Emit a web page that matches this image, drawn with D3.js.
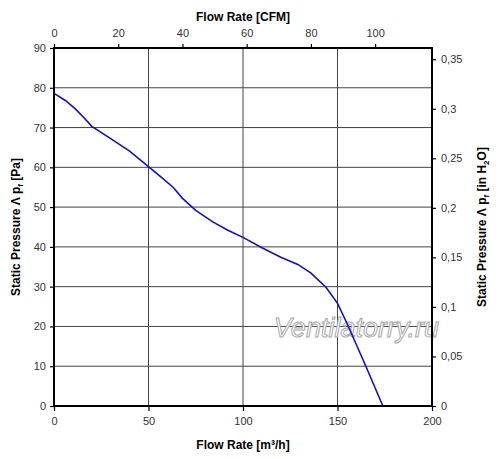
<!DOCTYPE html>
<html>
<head>
    <meta charset="UTF-8">
    <title>Fan curve</title>
    <script src="https://cdn.jsdelivr.net/npm/d3@7"></script>
    <style>
        body { margin: 0; background: #fff; }
        text { font-family: Arial, "Liberation Sans", sans-serif; }
    </style>
</head>
<body>
    <div id="chart"></div>
    <script>
        // Curve: flow in m3/h, static pressure in Pa
        const flow = [0, 6, 11, 16, 20, 30, 40, 50, 57, 63, 68, 75, 84, 92, 100, 110, 120, 129, 136, 144, 150, 155, 165, 174];
        const pressure = [78.6, 76.8, 74.8, 72.4, 70.3, 67.2, 64.1, 60.2, 57.4, 55, 52.2, 49.2, 46.3, 44.2, 42.4, 39.8, 37.4, 35.6, 33.4, 29.8, 25.8, 20.8, 10, 0];

        const flowTicks = [0, 50, 100, 150, 200];
        const cfmTicks = [0, 20, 40, 60, 80, 100];
        const paTicks = [0, 10, 20, 30, 40, 50, 60, 70, 80, 90];
        const inH2OTicks = [0, 0.05, 0.1, 0.15, 0.2, 0.25, 0.3, 0.35];

        const M3H_PER_CFM = 1.699;
        const INH2O_PER_PA = 0.0040146;

        const W = 500, H = 459;
        const margin = { top: 48, right: 68, bottom: 53, left: 54 };
        const width = W - margin.left - margin.right;
        const height = H - margin.top - margin.bottom;

        const svg = d3.select("#chart").append("svg")
            .attr("width", W)
            .attr("height", H);

        const g = svg.append("g")
            .attr("transform", `translate(${margin.left},${margin.top})`);

        const x = d3.scaleLinear().domain([0, 200]).range([0, width]);
        const xTop = d3.scaleLinear().domain([0, 200 / M3H_PER_CFM]).range([0, width]);
        const y = d3.scaleLinear().domain([0, 90]).range([height, 0]);
        const yRight = d3.scaleLinear().domain([0, 90 * INH2O_PER_PA]).range([height, 0]);

        const comma = v => String(v).replace(".", ",");

        // grid
        g.append("g").selectAll("line")
            .data(flowTicks.slice(1, -1))
            .join("line")
            .attr("x1", d => x(d)).attr("x2", d => x(d))
            .attr("y1", 0).attr("y2", height)
            .attr("stroke", "#444").attr("stroke-width", 1);

        g.append("g").selectAll("line")
            .data(paTicks.slice(1, -1))
            .join("line")
            .attr("x1", 0).attr("x2", width)
            .attr("y1", d => y(d)).attr("y2", d => y(d))
            .attr("stroke", "#444").attr("stroke-width", 1);

        // watermark
        g.append("text")
            .attr("x", x(160))
            .attr("y", y(17.3))
            .attr("text-anchor", "middle")
            .attr("font-size", "27px")
            .attr("font-style", "italic")
            .attr("fill", "#fff")
            .attr("stroke", "#a8a8a8")
            .attr("stroke-width", 1)
            .text("Ventilatorry.ru");

        // curve
        const pts = flow.map((f, i) => [f, pressure[i]]);
        g.append("path")
            .datum(pts)
            .attr("fill", "none")
            .attr("stroke", "#1010cc")
            .attr("stroke-width", 1.6)
            .attr("d", d3.line().x(d => x(d[0])).y(d => y(d[1])));

        // axes
        function styleAxis(sel) {
            sel.select(".domain").remove();
            sel.selectAll(".tick line").attr("stroke", "#000").attr("stroke-width", 1.2);
            sel.selectAll(".tick text")
                .attr("fill", "#333")
                .style("font-size", "11px")
                .style("font-family", "Arial, 'Liberation Sans', sans-serif");
        }

        g.append("g")
            .attr("transform", `translate(0,${height})`)
            .call(d3.axisBottom(x).tickValues(flowTicks).tickSize(5).tickPadding(6))
            .call(styleAxis);

        g.append("g")
            .call(d3.axisTop(xTop).tickValues(cfmTicks).tickSize(4).tickPadding(7))
            .call(styleAxis);

        g.append("g")
            .call(d3.axisLeft(y).tickValues(paTicks).tickSize(4).tickPadding(4))
            .call(styleAxis);

        g.append("g")
            .attr("transform", `translate(${width},0)`)
            .call(d3.axisRight(yRight).tickValues(inH2OTicks).tickFormat(comma).tickSize(4).tickPadding(5))
            .call(styleAxis);

        // plot frame
        g.append("rect")
            .attr("width", width).attr("height", height)
            .attr("fill", "none")
            .attr("stroke", "#000")
            .attr("stroke-width", 2);

        // axis titles
        svg.append("text")
            .attr("x", margin.left + width / 2)
            .attr("y", 21)
            .attr("text-anchor", "middle")
            .attr("font-size", "12px").attr("font-weight", "bold")
            .text("Flow Rate [CFM]");

        const bottomTitle = svg.append("text")
            .attr("x", margin.left + width / 2)
            .attr("y", 449)
            .attr("text-anchor", "middle")
            .attr("font-size", "12px").attr("font-weight", "bold");
        bottomTitle.append("tspan").text("Flow Rate [m³/h]");

        const leftTitle = svg.append("text")
            .attr("transform", `translate(20,${margin.top + height / 2}) rotate(-90)`)
            .attr("text-anchor", "middle")
            .attr("font-size", "12px").attr("font-weight", "bold");
        leftTitle.append("tspan").text("Static Pressure Λ p");
        leftTitle.append("tspan").attr("font-size", "8px").attr("dy", 3).text("f");
        leftTitle.append("tspan").attr("dy", -3).text(" [Pa]");

        const rightTitle = svg.append("text")
            .attr("transform", `translate(486,${margin.top + height / 2}) rotate(-90)`)
            .attr("text-anchor", "middle")
            .attr("font-size", "12px").attr("font-weight", "bold");
        rightTitle.append("tspan").text("Static Pressure Λ p");
        rightTitle.append("tspan").attr("font-size", "8px").attr("dy", 3).text("f");
        rightTitle.append("tspan").attr("dy", -3).text(" [in H");
        rightTitle.append("tspan").attr("font-size", "8px").attr("dy", 3).text("2");
        rightTitle.append("tspan").attr("dy", -3).text("O]");
    </script>
</body>
</html>
